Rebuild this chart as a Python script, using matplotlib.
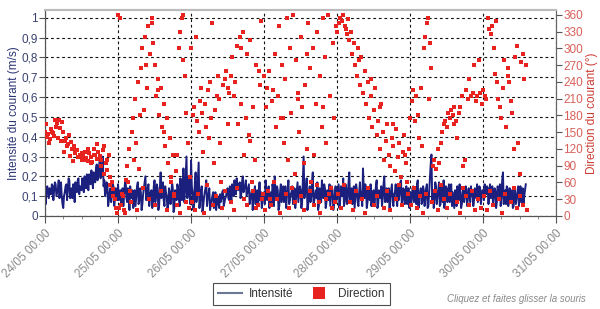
import numpy as np
import matplotlib
matplotlib.use("Agg")
import matplotlib.pyplot as plt
from matplotlib.lines import Line2D
import matplotlib.ticker as mticker

plt.rcParams['font.family'] = ['Liberation Sans', 'DejaVu Sans']

# ---------------- data (half-hourly from 24/05 00:00, plus :15/:45 readings) ----------------
intensity_day1 = [0.10,0.13,0.12,0.14,0.11,0.15,0.13,0.16,0.12,0.18,0.14,0.10,0.04,0.12,0.16,0.13,0.18,0.11,0.09,0.14,0.17,0.12,0.19,0.15,
                  0.13,0.17,0.20,0.14,0.18,0.21,0.16,0.19,0.22,0.17,0.26,0.20,0.28,0.22,0.30,0.18,0.12,0.16,0.08,0.14,0.11,0.15,0.09,0.13]
intensity_day2 = [0.16,0.10,0.06,0.14,0.11,0.18,0.07,0.12,0.15,0.09,0.04,0.13,0.10,0.17,0.08,0.12,0.06,0.14,0.20,0.11,0.16,0.09,0.13,0.07,
                  0.18,0.10,0.14,0.05,0.22,0.12,0.08,0.15,0.10,0.06,0.12,0.09,0.14,0.04,0.11,0.16,0.10,0.19,0.08,0.24,0.12,0.30,0.15,0.10]
intensity_day3 = [0.28,0.12,0.06,0.22,0.10,0.27,0.08,0.15,0.05,0.12,0.18,0.09,0.14,0.06,0.10,0.04,0.12,0.08,0.06,0.11,0.09,0.13,0.07,0.10,
                  0.14,0.08,0.12,0.16,0.10,0.15,0.19,0.13,0.17,0.11,0.20,0.14,0.18,0.12,0.16,0.09,0.13,0.07,0.15,0.10,0.05,0.17,0.12,0.08]
intensity_day4 = [0.12,0.18,0.08,0.15,0.10,0.06,0.14,0.20,0.09,0.13,0.05,0.16,0.11,0.07,0.15,0.10,0.18,0.08,0.12,0.06,0.14,0.09,0.17,0.11,
                  0.13,0.07,0.30,0.12,0.19,0.06,0.15,0.10,0.22,0.08,0.13,0.17,0.05,0.12,0.18,0.09,0.14,0.07,0.11,0.16,0.10,0.13,0.06,0.15]
intensity_day5 = [0.10,0.16,0.08,0.12,0.19,0.07,0.14,0.09,0.22,0.11,0.06,0.15,0.10,0.13,0.05,0.17,0.12,0.24,0.09,0.14,0.07,0.11,0.16,0.08,
                  0.13,0.10,0.18,0.06,0.12,0.15,0.09,0.20,0.11,0.07,0.14,0.10,0.16,0.05,0.12,0.09,0.15,0.11,0.18,0.08,0.13,0.10,0.06,0.14]
intensity_day6 = [0.12,0.08,0.15,0.10,0.06,0.18,0.11,0.14,0.07,0.13,0.09,0.16,0.05,0.20,0.31,0.12,0.08,0.15,0.10,0.17,0.06,0.13,0.18,0.09,
                  0.14,0.11,0.07,0.16,0.12,0.04,0.10,0.15,0.08,0.12,0.06,0.14,0.10,0.13,0.09,0.11,0.15,0.12,0.08,0.13,0.16,0.11,0.14,0.10]
intensity_day7 = [0.13,0.16,0.11,0.14,0.12,0.09,0.15,0.10,0.13,0.07,0.12,0.16,0.09,0.22,0.11,0.06,0.14,0.10,0.08,0.13,0.05,0.12,0.09,0.15,
                  0.11,0.07,0.14,0.10,0.16]

intensity_q_day1 = [0.06,0.15,0.09,0.11,0.16,0.08,0.17,0.10,0.14,0.09,0.17,0.06,0.10,0.15,0.08,0.19,0.09,0.14,0.16,0.07,0.13,0.18,0.11,0.14,
                    0.19,0.12,0.16,0.21,0.13,0.17,0.23,0.14,0.19,0.24,0.18,0.25,0.19,0.27,0.15,0.10,0.17,0.05,0.12,0.07,0.16,0.05,0.14,0.08]
intensity_q_day2 = [0.08,0.13,0.11,0.05,0.16,0.09,0.14,0.03,0.10,0.13,0.08,0.05,0.15,0.06,0.14,0.03,0.11,0.17,0.08,0.14,0.05,0.12,0.04,0.15,
                    0.07,0.16,0.03,0.13,0.09,0.17,0.05,0.12,0.03,0.14,0.06,0.17,0.02,0.13,0.08,0.14,0.05,0.12,0.17,0.07,0.21,0.09,0.20,0.06]
intensity_q_day3 = [0.15,0.03,0.17,0.07,0.19,0.04,0.12,0.02,0.09,0.14,0.05,0.11,0.03,0.08,0.12,0.06,0.03,0.10,0.04,0.07,0.12,0.05,0.09,0.13,
                    0.09,0.15,0.07,0.12,0.18,0.11,0.14,0.16,0.09,0.17,0.12,0.15,0.10,0.14,0.06,0.11,0.03,0.12,0.06,0.13,0.10,0.08,0.04,0.11]
intensity_q_day4 = [0.06,0.10,0.13,0.04,0.12,0.16,0.05,0.11,0.15,0.03,0.12,0.07,0.15,0.10,0.04,0.13,0.06,0.11,0.15,0.09,0.04,0.13,0.07,0.15,
                    0.04,0.18,0.09,0.14,0.03,0.12,0.07,0.17,0.05,0.11,0.09,0.03,0.14,0.07,0.12,0.16,0.04,0.13,0.08,0.05,0.15,0.03,0.11,0.07]
intensity_q_day5 = [0.13,0.04,0.15,0.10,0.05,0.16,0.06,0.17,0.07,0.14,0.12,0.04,0.16,0.07,0.12,0.09,0.05,0.14,0.16,0.04,0.13,0.08,0.05,0.12,
                    0.06,0.15,0.04,0.13,0.09,0.05,0.16,0.07,0.14,0.12,0.04,0.13,0.07,0.11,0.16,0.05,0.08,0.17,0.05,0.14,0.06,0.15,0.12,0.04]
intensity_q_day6 = [0.05,0.14,0.07,0.13,0.16,0.04,0.12,0.06,0.15,0.05,0.14,0.04,0.12,0.26,0.08,0.04,0.17,0.06,0.13,0.05,0.16,0.07,0.04,0.15,
                    0.07,0.16,0.13,0.05,0.08,0.13,0.05,0.11,0.16,0.04,0.12,0.07,0.15,0.05,0.14,0.07,0.10,0.05,0.14,0.09,0.07,0.15,0.06,0.13]
intensity_q_day7 = [0.08,0.12,0.15,0.06,0.16,0.13,0.05,0.14,0.04,0.15,0.10,0.05,0.18,0.06,0.13,0.15,0.05,0.14,0.11,0.04,0.14,0.06,0.12,0.05,
                    0.15,0.12,0.05,0.13]

direction_day1 = [150,142,146,138,155,148,143,160,166,171,158,168,150,135,140,128,145,132,120,125,112,118,105,110,
                  100,108,115,104,98,112,106,96,120,110,102,115,108,100,118,125,95,82,110,70,60,48,30,5]
direction_day2 = [360,355,20,35,10,65,90,120,45,150,175,210,130,240,85,265,300,190,320,230,340,290,355,310,
                  270,215,245,180,230,160,200,125,175,95,140,60,110,40,80,20,300,330,355,360,250,185,130,70]
direction_day3 = [300,180,195,320,170,150,205,185,115,200,160,225,140,175,345,95,190,215,250,130,60,235,245,260,
                  230,220,250,285,215,240,305,165,320,200,330,110,175,290,145,315,60,195,100,270,20,235,350,40]
direction_day4 = [250,195,230,260,30,205,225,290,160,215,340,175,270,130,245,355,100,300,185,360,75,280,210,150,
                  320,195,95,235,120,345,265,60,300,110,200,330,25,250,160,355,285,130,360,215,50,310,175,340]
direction_day5 = [330,345,355,350,360,340,335,352,315,330,290,310,270,250,300,235,285,220,260,200,240,175,215,160,
                  190,230,145,170,120,200,150,100,135,165,110,90,140,125,80,155,105,130,70,115,145,95,60,120]
direction_day6 = [175,205,225,170,215,180,140,230,125,300,320,345,355,310,265,90,100,85,120,95,130,150,165,170,
                  160,185,175,190,180,165,170,140,185,195,215,90,100,225,210,245,215,220,270,205,215,280,220,200]
direction_day7 = [225,215,210,355,335,325,340,300,255,240,210,195,175,230,280,160,265,240,205,185,120,285,305,130,
                  75,275,290,245,270]

# hourly readings at hh:15
direction_q_day1 = [165,130,150,172,140,135,115,125,108,98,118,105,112,100,120,95,110,128,90,75,100,55,35,15]
direction_q_day2 = [15,40,5,60,25,100,10,180,50,270,30,345,20,225,45,150,10,70,35,110,5,280,25,15]
direction_q_day3 = [25,10,40,230,5,55,240,20,35,210,15,45,165,25,10,50,300,30,20,135,45,15,260,30]
direction_q_day4 = [10,45,20,60,30,5,175,40,15,50,25,220,35,10,290,45,20,55,5,195,30,40,15,25]
direction_q_day5 = [40,15,55,325,25,10,45,280,30,5,50,245,20,35,195,15,45,10,165,30,55,20,110,40]
direction_q_day6 = [20,50,15,35,5,40,210,25,45,10,55,30,15,40,195,25,5,50,35,20,45,10,30,15]
direction_q_day7 = [35,10,45,20,350,30,5,40,250,25,50,15,35,20,10]

day_labels = ["24/05 00:00", "25/05 00:00", "26/05 00:00", "27/05 00:00",
              "28/05 00:00", "29/05 00:00", "30/05 00:00", "31/05 00:00"]
left_ticks = [0, 0.1, 0.2, 0.3, 0.4, 0.5, 0.6, 0.7, 0.8, 0.9, 1.0]
right_ticks = [0, 30, 60, 90, 120, 150, 180, 210, 240, 270, 300, 330, 360]

intensity_a = np.array(intensity_day1 + intensity_day2 + intensity_day3 + intensity_day4
                       + intensity_day5 + intensity_day6 + intensity_day7)
intensity_b = np.array(intensity_q_day1 + intensity_q_day2 + intensity_q_day3 + intensity_q_day4
                       + intensity_q_day5 + intensity_q_day6 + intensity_q_day7)
t_a = np.arange(len(intensity_a)) * 0.5 / 24.0
t_b = (np.arange(len(intensity_b)) * 0.5 + 0.25) / 24.0
t_int = np.concatenate([t_a, t_b])
intensity = np.concatenate([intensity_a, intensity_b])
order = np.argsort(t_int)
t_int, intensity = t_int[order], intensity[order]

direction_a = np.array(direction_day1 + direction_day2 + direction_day3 + direction_day4
                       + direction_day5 + direction_day6 + direction_day7)
direction_b = np.array(direction_q_day1 + direction_q_day2 + direction_q_day3 + direction_q_day4
                       + direction_q_day5 + direction_q_day6 + direction_q_day7)
td_a = np.arange(len(direction_a)) * 0.5 / 24.0
td_b = (np.arange(len(direction_b)) * 1.0 + 0.25) / 24.0

# ---------------- figure ----------------
fig = plt.figure(figsize=(6.0, 3.09), dpi=100)
ax = fig.add_axes([0.075, 0.301, 0.852, 0.667])
ax2 = ax.twinx()

navy = '#1b1f7e'
red = '#e8231f'

ax.plot(t_int, intensity, color=navy, lw=1.4, zorder=3)
for tt, dd in ((td_a, direction_a), (td_b, direction_b)):
    ax2.plot(tt, dd, linestyle='none', marker='s', markersize=3.3,
             color=red, markeredgewidth=0, zorder=4)

ax.set_xlim(0, 7)
ax.set_ylim(0, 1.04)
ax2.set_ylim(0, 369)

ax.set_xticks(range(8))
ax.set_xticklabels(day_labels, rotation=45, ha='right', rotation_mode='anchor',
                   color='#8a8a8a', fontsize=8.5)
ax.xaxis.set_minor_locator(mticker.MultipleLocator(0.25))
ax.tick_params(axis='x', which='major', length=5, color='#555555', pad=3)
ax.tick_params(axis='x', which='minor', length=2.5, color='#777777')

ax.set_yticks(left_ticks)
ax.set_yticklabels([("%g" % v).replace('.', ',') for v in left_ticks],
                   color='#3a4270', fontsize=8.5)
ax.tick_params(axis='y', length=4, color='#555555', pad=1)

ax2.set_yticks(right_ticks)
ax2.set_yticklabels([str(v) for v in right_ticks], color='#d9605a', fontsize=8.5)
ax2.tick_params(axis='y', length=4, color='#555555', pad=1)

ax.set_ylabel("Intensité du courant (m/s)", color='#2b3575', fontsize=8.5, labelpad=1)
ax2.set_ylabel("Direction du courant (°)", color='#cc3b33', fontsize=8.5, labelpad=2)

ax.grid(True, axis='both', which='major', color='#111111', linestyle=(0, (2.5, 2.5)), lw=0.8)
ax.set_axisbelow(True)

for a in (ax, ax2):
    a.spines['top'].set_color('#bbbbbb')
    a.spines['top'].set_linewidth(1.5)
    a.spines['left'].set_color('#555555')
    a.spines['right'].set_color('#666666')
    a.spines['bottom'].set_color('#555555')

handles = [Line2D([0], [0], color='#6c7893', lw=1.5),
           Line2D([0], [0], linestyle='none', marker='s', markersize=8, color=red, markeredgewidth=0)]
leg = fig.legend(handles, ["Intensité", "Direction"], loc='center',
                 bbox_to_anchor=(0.502, 0.049), ncol=2, fontsize=8.5, frameon=True,
                 fancybox=False, edgecolor='#222222', handlelength=2.0, handletextpad=0.6,
                 columnspacing=1.2, borderpad=0.45)
leg.get_frame().set_linewidth(0.8)
for txt in leg.get_texts():
    txt.set_color('#333333')

fig.text(0.745, 0.015, "Cliquez et faites glisser la souris", fontsize=7,
         style='italic', color='#8a8a8a', ha='left', va='bottom')

fig.savefig("out.png", dpi=100)
